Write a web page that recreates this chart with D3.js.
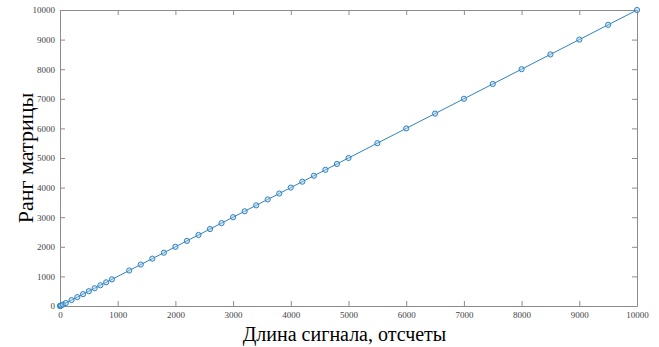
<!DOCTYPE html>
<html>
<head>
<meta charset="utf-8">
<script src="https://cdn.jsdelivr.net/npm/d3@7"></script>
<style>
  body { margin: 0; background: #fff; }
  .tick text { font-family: "Liberation Serif", "DejaVu Serif", serif; font-size: 9px; fill: #444; }
  .axis-title { font-family: "Liberation Serif", "DejaVu Serif", serif; fill: #000; }
</style>
</head>
<body>
<div id="chart"></div>
<script>
// signal length (samples) and matrix rank
var signalLength = [1, 5, 10, 20, 50, 100, 200, 300, 400, 500, 600, 700, 800, 900,
  1200, 1400, 1600, 1800, 2000, 2200, 2400, 2600, 2800, 3000, 3200, 3400, 3600, 3800,
  4000, 4200, 4400, 4600, 4800, 5000, 5500, 6000, 6500, 7000, 7500, 8000, 8500, 9000, 9500, 10000]
var matrixRank = [1, 5, 10, 20, 50, 100, 200, 300, 400, 500, 600, 700, 800, 900,
  1200, 1400, 1600, 1800, 2000, 2200, 2400, 2600, 2800, 3000, 3200, 3400, 3600, 3800,
  4000, 4200, 4400, 4600, 4800, 5000, 5500, 6000, 6500, 7000, 7500, 8000, 8500, 9000, 9500, 10000]
var xTicks = [0, 1000, 2000, 3000, 4000, 5000, 6000, 7000, 8000, 9000, 10000]
var yTicks = [0, 1000, 2000, 3000, 4000, 5000, 6000, 7000, 8000, 9000, 10000]

var points = signalLength.map(function(d, i) { return { x: d, y: matrixRank[i] } })

var width = 659, height = 347
var margin = { top: 10, right: 22, bottom: 41, left: 60 }
var w = width - margin.left - margin.right
var h = height - margin.top - margin.bottom
var axisColor = "#8c8c8c"
var blue = "#2f83c0"

var svg = d3.select("#chart").append("svg")
  .attr("width", width)
  .attr("height", height)

var g = svg.append("g")
  .attr("transform", "translate(" + margin.left + "," + margin.top + ")")

var x = d3.scaleLinear().domain([0, 10000]).range([0, w])
var y = d3.scaleLinear().domain([0, 10000]).range([h, 0])

// bottom and left axes (ticks point inward)
var xAxis = g.append("g")
  .attr("transform", "translate(0," + h + ")")
  .call(d3.axisBottom(x).tickValues(xTicks).tickSizeInner(-5).tickSizeOuter(0).tickPadding(6).tickFormat(d3.format("d")))
var yAxis = g.append("g")
  .call(d3.axisLeft(y).tickValues(yTicks).tickSizeInner(-5).tickSizeOuter(0).tickPadding(5).tickFormat(d3.format("d")))

// top and right box lines with inward ticks
var xTop = g.append("g")
  .call(d3.axisTop(x).tickValues(xTicks).tickSizeInner(-5).tickSizeOuter(0).tickFormat(""))
var yRight = g.append("g")
  .attr("transform", "translate(" + w + ",0)")
  .call(d3.axisRight(y).tickValues(yTicks).tickSizeInner(-5).tickSizeOuter(0).tickFormat(""))

;[xAxis, yAxis, xTop, yRight].forEach(function(a) {
  a.select(".domain").attr("stroke", axisColor)
  a.selectAll(".tick line").attr("stroke", axisColor)
})

// line
g.append("path")
  .datum(points)
  .attr("fill", "none")
  .attr("stroke", blue)
  .attr("stroke-width", 1)
  .attr("d", d3.line().x(function(d) { return x(d.x) }).y(function(d) { return y(d.y) }))

// markers
g.append("g")
  .selectAll("circle")
  .data(points)
  .enter()
  .append("circle")
    .attr("cx", function(d) { return x(d.x) })
    .attr("cy", function(d) { return y(d.y) })
    .attr("r", 2.6)
    .attr("fill", "#a9cbe6")
    .attr("fill-opacity", 0.4)
    .attr("stroke", blue)
    .attr("stroke-width", 1)

// axis titles
svg.append("text")
  .attr("class", "axis-title")
  .attr("x", margin.left + w / 2 - 4)
  .attr("y", 341)
  .attr("text-anchor", "middle")
  .style("font-size", "20px")
  .text("Длина сигнала, отсчеты")

svg.append("text")
  .attr("class", "axis-title")
  .attr("transform", "translate(33," + (margin.top + h / 2) + ") rotate(-90)")
  .attr("text-anchor", "middle")
  .style("font-size", "22px")
  .text("Ранг матрицы")
</script>
</body>
</html>
